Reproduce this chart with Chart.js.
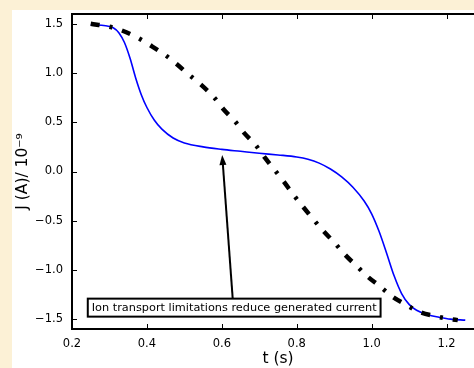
<!DOCTYPE html>
<html>
<head>
<meta charset="utf-8">
<script src="https://cdn.jsdelivr.net/npm/chart.js@4.4.0/dist/chart.umd.min.js"></script>
<style>
  html, body { margin: 0; padding: 0; overflow: hidden; width: 474px; height: 368px; background: #fcf1d6; }
  #wrap { position: absolute; left: 12px; top: 10px; width: 480px; height: 358px; background: #fff; }
</style>
</head>
<body>
<div id="wrap"><canvas id="chart" width="480" height="358"></canvas></div>
<script>
// blue: full model current
const blueT = [0.25, 0.29, 0.31, 0.325, 0.34, 0.355, 0.37, 0.385, 0.40, 0.42, 0.44, 0.47, 0.50, 0.55, 0.60, 0.65, 0.70, 0.75, 0.80, 0.83, 0.86, 0.89, 0.92, 0.95, 0.98, 1.00, 1.02, 1.04, 1.06, 1.08, 1.10, 1.12, 1.15, 1.18, 1.21, 1.25];
const blueJ = [1.49, 1.48, 1.46, 1.41, 1.31, 1.15, 0.95, 0.78, 0.65, 0.52, 0.43, 0.34, 0.29, 0.25, 0.225, 0.205, 0.185, 0.168, 0.148, 0.125, 0.085, 0.025, -0.055, -0.16, -0.30, -0.43, -0.61, -0.83, -1.06, -1.24, -1.35, -1.41, -1.455, -1.48, -1.50, -1.51];

// black dash-dot: without ion transport limitation
const blackT = [0.25, 0.30, 0.335, 0.375, 0.41, 0.45, 0.48, 0.51, 0.545, 0.58, 0.605, 0.635, 0.66, 0.69, 0.715, 0.74, 0.765, 0.79, 0.815, 0.87, 0.90, 0.93, 0.96, 0.99, 1.02, 1.055, 1.09, 1.13, 1.17, 1.21, 1.23];
const blackJ = [1.50, 1.47, 1.43, 1.36, 1.28, 1.18, 1.09, 0.99, 0.88, 0.75, 0.63, 0.51, 0.39, 0.27, 0.14, 0.02, -0.10, -0.23, -0.35, -0.60, -0.72, -0.85, -0.96, -1.07, -1.16, -1.27, -1.35, -1.43, -1.47, -1.50, -1.51];

const xTicks = [0.2, 0.4, 0.6, 0.8, 1.0, 1.2];
const yTicks = [-1.5, -1.0, -0.5, 0.0, 0.5, 1.0, 1.5];

const noteText = "Ion transport limitations reduce generated current";
const noteAt = [0.633, -1.383];
const arrowFrom = [0.629, -1.286];
const arrowTo = [0.601, 0.167];

Chart.defaults.font.family = "'DejaVu Sans', sans-serif";

const fmt = v => (v < 0 ? "\u2212" : "") + Math.abs(v).toFixed(1);

// box, inward ticks and the annotation
const framePlugin = {
  id: "frame",
  afterDatasetsDraw(chart) {
    const { ctx, chartArea: a, scales: { x, y } } = chart;
    ctx.save();
    ctx.strokeStyle = "#000";
    ctx.lineWidth = 1;
    ctx.beginPath();
    xTicks.forEach(v => {
      const px = Math.round(x.getPixelForValue(v)) + 0.5;
      ctx.moveTo(px, a.bottom); ctx.lineTo(px, a.bottom - 5);
      ctx.moveTo(px, a.top); ctx.lineTo(px, a.top + 5);
    });
    yTicks.forEach(v => {
      const py = Math.round(y.getPixelForValue(v)) + 0.5;
      ctx.moveTo(a.left, py); ctx.lineTo(a.left + 5, py);
      ctx.moveTo(a.right, py); ctx.lineTo(a.right - 5, py);
    });
    ctx.stroke();
    ctx.lineWidth = 2;
    ctx.strokeRect(a.left, a.top, a.right - a.left, a.bottom - a.top);

    // arrow
    const x0 = x.getPixelForValue(arrowFrom[0]), y0 = y.getPixelForValue(arrowFrom[1]);
    const x1 = x.getPixelForValue(arrowTo[0]), y1 = y.getPixelForValue(arrowTo[1]);
    const ang = Math.atan2(y1 - y0, x1 - x0);
    const hl = 10, hw = 3.5;
    ctx.lineWidth = 2;
    ctx.beginPath();
    ctx.moveTo(x0, y0);
    ctx.lineTo(x1 - Math.cos(ang) * hl * 0.8, y1 - Math.sin(ang) * hl * 0.8);
    ctx.stroke();
    ctx.fillStyle = "#000";
    ctx.beginPath();
    ctx.moveTo(x1, y1);
    ctx.lineTo(x1 - Math.cos(ang) * hl - Math.sin(ang) * hw, y1 - Math.sin(ang) * hl + Math.cos(ang) * hw);
    ctx.lineTo(x1 - Math.cos(ang) * hl + Math.sin(ang) * hw, y1 - Math.sin(ang) * hl - Math.cos(ang) * hw);
    ctx.closePath();
    ctx.fill();

    // text box
    ctx.font = "11.3px 'DejaVu Sans'";
    const tw = ctx.measureText(noteText).width;
    const cx = x.getPixelForValue(noteAt[0]), cy = y.getPixelForValue(noteAt[1]);
    const bw = tw + 8, bh = 18;
    ctx.fillStyle = "#fff";
    ctx.fillRect(cx - bw / 2, cy - bh / 2, bw, bh);
    ctx.strokeRect(cx - bw / 2, cy - bh / 2, bw, bh);
    ctx.fillStyle = "#000";
    ctx.textAlign = "center";
    ctx.textBaseline = "middle";
    ctx.fillText(noteText, cx, cy + 0.5);
    ctx.restore();
  }
};

const tickFont = { family: "'DejaVu Sans'", size: 11.5 };
const titleFont = { family: "'DejaVu Sans'", size: 15.5 };

new Chart(document.getElementById("chart"), {
  type: "line",
  data: {
    datasets: [
      {
        data: blackT.map((t, i) => ({ x: t, y: blackJ[i] })),
        borderColor: "#000",
        borderWidth: 4.5,
        borderDash: [9, 10, 3, 10],
        borderCapStyle: "butt",
        pointRadius: 0,
        cubicInterpolationMode: "monotone",
        fill: false
      },
      {
        data: blueT.map((t, i) => ({ x: t, y: blueJ[i] })),
        borderColor: "#0000ff",
        borderWidth: 1.6,
        pointRadius: 0,
        cubicInterpolationMode: "monotone",
        fill: false
      }
    ]
  },
  options: {
    responsive: false,
    animation: false,
    devicePixelRatio: 1,
    layout: { padding: { left: 0, top: 4, right: 8, bottom: 0 } },
    plugins: { legend: { display: false }, tooltip: { enabled: false } },
    scales: {
      x: {
        type: "linear",
        min: 0.2,
        max: 1.3,
        afterBuildTicks: s => { s.ticks = xTicks.map(v => ({ value: v })); },
        afterFit: s => { s.height = 39; s.paddingLeft = 0; s.paddingRight = 0; },
        grid: { display: false, drawTicks: false },
        border: { display: false },
        ticks: { color: "#000", font: tickFont, padding: 8, maxRotation: 0, autoSkip: false, callback: v => fmt(v) },
        title: { display: true, text: "t (s)", color: "#000", font: titleFont, padding: { top: 0, bottom: 0 } }
      },
      y: {
        type: "linear",
        min: -1.6,
        max: 1.6,
        afterBuildTicks: s => { s.ticks = yTicks.map(v => ({ value: v })); },
        afterFit: s => { s.width = 60; s.paddingTop = 0; s.paddingBottom = 0; },
        grid: { display: false, drawTicks: false },
        border: { display: false },
        ticks: { color: "#000", font: tickFont, padding: 9, autoSkip: false, callback: v => fmt(v) },
        title: { display: true, text: "J (A)/ 10\u207B\u2079", color: "#000", font: titleFont, padding: { top: 2, bottom: 0 } }
      }
    }
  },
  plugins: [framePlugin]
});
</script>
</body>
</html>
